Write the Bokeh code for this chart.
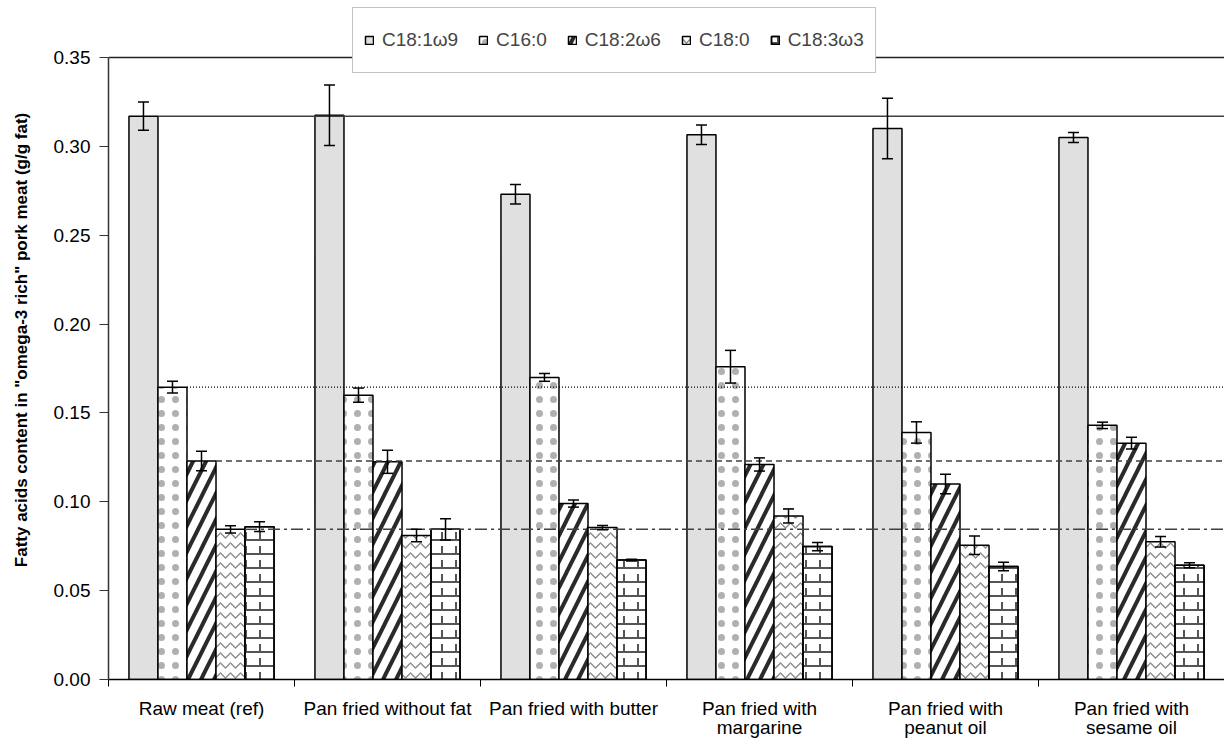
from bokeh.plotting import figure
from bokeh.models import (ColumnDataSource, Whisker, TeeHead, Span, FixedTicker,
                          NumeralTickFormatter, Legend, LegendItem, Range1d)
from bokeh.embed import file_html
from bokeh.resources import INLINE

# ---------------- data ----------------
categories = ["Raw meat (ref)", "Pan fried without fat", "Pan fried with butter",
              "Pan fried with\nmargarine", "Pan fried with\npeanut oil", "Pan fried with\nsesame oil"]
series_names = ["C18:1\u03c99", "C16:0", "C18:2\u03c96", "C18:0", "C18:3\u03c93"]
y_ticks = [0.0, 0.05, 0.10, 0.15, 0.20, 0.25, 0.30, 0.35]
y_max = 0.35

c18_1 = [0.317, 0.3175, 0.273, 0.3065, 0.310, 0.305]
c18_1_err = [0.008, 0.017, 0.0055, 0.0055, 0.017, 0.0028]
c16_0 = [0.1645, 0.160, 0.170, 0.176, 0.139, 0.143]
c16_0_err = [0.0033, 0.004, 0.0022, 0.0092, 0.006, 0.0018]
c18_2 = [0.123, 0.1225, 0.099, 0.121, 0.110, 0.133]
c18_2_err = [0.0055, 0.0065, 0.002, 0.0037, 0.0055, 0.0033]
c18_0 = [0.0845, 0.081, 0.0855, 0.092, 0.0755, 0.0775]
c18_0_err = [0.002, 0.0035, 0.0012, 0.004, 0.0052, 0.003]
c18_3 = [0.086, 0.0845, 0.0672, 0.0748, 0.0636, 0.0643]
c18_3_err = [0.0027, 0.006, 0.0005, 0.0023, 0.0024, 0.0014]

values = [c18_1, c16_0, c18_2, c18_0, c18_3]
errors = [c18_1_err, c16_0_err, c18_2_err, c18_0_err, c18_3_err]

# ---------------- styles ----------------
FONT = "Liberation Sans"
BAR_W = 0.156
offsets = [-2 * BAR_W, -BAR_W, 0.0, BAR_W, 2 * BAR_W]

fills = ["#e0e0e0", "white", "white", "white", "white"]
hatches = [None, ".", "/", "v", "-"]
hatch_colors = [None, "#b0b0b0", "#2a2a2a", "#8c8c8c", "#555555"]
hatch_scales = [12, 14, 26, 10, 14]
hatch_weights = [1, 1.0, 4, 1.3, 2]

# frame extends to canvas top so that the legend (overlapping top border) is not clipped
FRAME_TOP_PX = 57
FRAME_H_DATA = 622
frame_h = FRAME_H_DATA + FRAME_TOP_PX

# ---------------- figure ----------------
p = figure(frame_width=1116, frame_height=frame_h,
           x_range=Range1d(0, 6), y_range=Range1d(0, y_max * frame_h / FRAME_H_DATA),
           output_backend="svg", toolbar_location=None,
           min_border_left=108, min_border_right=0, min_border_top=0, min_border_bottom=20)
p.xgrid.visible = False
p.ygrid.visible = False
p.outline_line_color = None
p.background_fill_color = "white"
p.border_fill_color = "white"

group_x = [i + 0.5 for i in range(len(categories))]

renderers = []
for s_idx in range(5):
    xs = [gx + offsets[s_idx] for gx in group_x]
    src = ColumnDataSource(dict(x=xs, top=values[s_idx],
                                upper=[v + e for v, e in zip(values[s_idx], errors[s_idx])],
                                lower=[v - e for v, e in zip(values[s_idx], errors[s_idx])]))
    kw = dict(x="x", top="top", bottom=0, width=BAR_W, source=src,
              fill_color=fills[s_idx], line_color="black", line_width=1.5)
    if hatches[s_idx]:
        kw.update(hatch_pattern=hatches[s_idx],
                  hatch_scale=hatch_scales[s_idx], hatch_weight=hatch_weights[s_idx],
                  hatch_color=hatch_colors[s_idx])
    r = p.vbar(**kw)
    rs = [r]
    if s_idx == 4:
        # staggered vertical joints to complete the brick look
        r2 = p.vbar(x="x", top="top", bottom=0, width=BAR_W, source=src,
                    fill_color=None, line_color="black", line_width=1.5,
                    hatch_pattern=":", hatch_scale=14, hatch_weight=2, hatch_color="#555555")
        rs.append(r2)
    renderers.append((rs, src))

# reference lines from raw meat values
ref_styles = [("solid", "#404040", 1.5), ("1 2", "black", 1.2),
              ("6 4", "#404040", 1.5), ("12 4 3 4", "#404040", 1.5)]
for s_idx, (dash, col, lw) in enumerate(ref_styles):
    x_start = group_x[0] + offsets[s_idx] + BAR_W / 2
    p.segment(x0=[x_start], y0=[values[s_idx][0]], x1=[6], y1=[values[s_idx][0]],
              line_dash=dash, line_color=col, line_width=lw, level="overlay")

# error bars
for rs, src in renderers:
    w = Whisker(base="x", upper="upper", lower="lower", source=src,
                line_color="black", line_width=1.5, level="overlay",
                upper_head=TeeHead(size=11, line_width=1.5, line_color="black"),
                lower_head=TeeHead(size=11, line_width=1.5, line_color="black"))
    p.add_layout(w)

# top border
p.add_layout(Span(location=y_max, dimension="width", line_color="#222222", line_width=1.5))

# axes
p.yaxis.ticker = FixedTicker(ticks=y_ticks)
p.yaxis.bounds = (0, y_max)
p.yaxis.formatter = NumeralTickFormatter(format="0.00")
p.yaxis.axis_label = 'Fatty acids content in "omega-3 rich" pork meat (g/g fat)'
p.yaxis.axis_label_text_font = FONT
p.yaxis.axis_label_text_font_style = "bold"
p.yaxis.axis_label_text_font_size = "17px"
p.yaxis.axis_label_text_color = "black"
p.yaxis.axis_label_standoff = 20
p.yaxis.major_label_text_font = FONT
p.yaxis.major_label_text_font_size = "19px"
p.yaxis.major_label_text_color = "black"
p.yaxis.major_tick_out = 9
p.yaxis.major_tick_in = 0
p.yaxis.minor_tick_line_color = None
p.yaxis.major_label_standoff = 9
p.yaxis.axis_line_color = "#333333"
p.yaxis.axis_line_width = 1.5
p.yaxis.major_tick_line_color = "#333333"

p.xaxis.ticker = FixedTicker(ticks=group_x, minor_ticks=list(range(len(categories) + 1)))
p.xaxis.major_label_overrides = {gx: c for gx, c in zip(group_x, categories)}
p.xaxis.major_tick_line_color = None
p.xaxis.major_tick_out = 0
p.xaxis.major_tick_in = 0
p.xaxis.minor_tick_out = 7
p.xaxis.minor_tick_in = 0
p.xaxis.minor_tick_line_color = "black"
p.xaxis.major_label_standoff = 11
p.xaxis.major_label_text_font = FONT
p.xaxis.major_label_text_font_size = "19px"
p.xaxis.major_label_text_color = "black"
p.xaxis.major_label_text_line_height = 0.95
p.xaxis.axis_line_color = "black"
p.xaxis.axis_line_width = 1.5

# legend
legend = Legend(items=[LegendItem(label=n, renderers=rs) for n, (rs, _) in zip(series_names, renderers)],
                orientation="horizontal", location=(244, 606),
                label_text_font=FONT, label_text_font_size="19px",
                glyph_width=10, glyph_height=10, label_standoff=8, spacing=20,
                padding=11, label_height=42,
                border_line_color="#888888", border_line_width=1.5,
                background_fill_color="white", background_fill_alpha=1.0, margin=0)
p.add_layout(legend)

open("out.html", "w").write(file_html(p, INLINE))
